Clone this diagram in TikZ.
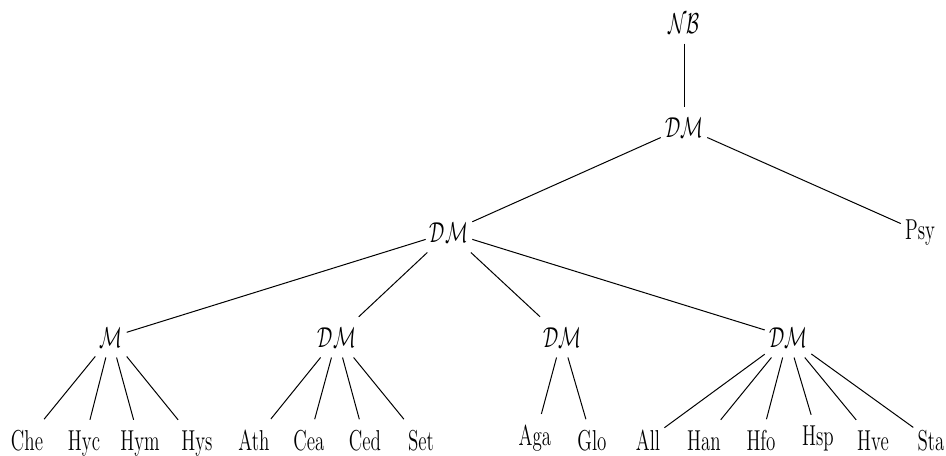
\documentclass[tikz,border=0pt]{standalone}
\begin{document}
\begin{tikzpicture}[x=0.5pt, y=-0.5pt, line width=0.5pt,
    every node/.style={font=\fontsize{14.4}{17}\selectfont, xscale=0.66,
        inner xsep=3pt, inner ysep=5pt, anchor=base}]

    \useasboundingbox (0, 0) rectangle (946, 455);

    \node (nb) at (684, 33) {$\mathcal{NB}$};
    \node (dma) at (684, 137) {$\mathcal{DM}$};
    \node (dmb) at (449, 242) {$\mathcal{DM}$};
    \node (psy) at (920, 239) {Psy};

    \node (m) at (111, 347) {$\mathcal{M}$};
    \node (dmc) at (337, 347) {$\mathcal{DM}$};
    \node (dmd) at (562, 347) {$\mathcal{DM}$};
    \node (dme) at (788, 347) {$\mathcal{DM}$};

    \node (che) at (27, 450) {Che};
    \node (hyc) at (84, 450) {Hyc};
    \node (hym) at (140, 450) {Hym};
    \node (hys) at (197, 450) {Hys};

    \node (ath) at (254, 450) {Ath};
    \node (cea) at (309, 450) {Cea};
    \node (ced) at (365, 450) {Ced};
    \node (set) at (421, 450) {Set};

    \node (aga) at (535, 445) {Aga};
    \node (glo) at (592, 450) {Glo};

    \node (all) at (648, 450) {All};
    \node (han) at (704, 450) {Han};
    \node (hfo) at (761, 450) {Hfo};
    \node (hsp) at (818, 445) {Hsp};
    \node (hve) at (873, 450) {Hve};
    \node (sta) at (931, 450) {Sta};

    \draw (nb) -- (dma);
    \draw (dma) -- (dmb);
    \draw (dma) -- (psy);

    \draw (dmb) -- (m);
    \draw (dmb) -- (dmc);
    \draw (dmb) -- (dmd);
    \draw (dmb) -- (dme);

    \draw (m) -- (che);
    \draw (m) -- (hyc);
    \draw (m) -- (hym);
    \draw (m) -- (hys);

    \draw (dmc) -- (ath);
    \draw (dmc) -- (cea);
    \draw (dmc) -- (ced);
    \draw (dmc) -- (set);

    \draw (dmd) -- (aga);
    \draw (dmd) -- (glo);

    \draw (dme) -- (all);
    \draw (dme) -- (han);
    \draw (dme) -- (hfo);
    \draw (dme) -- (hsp);
    \draw (dme) -- (hve);
    \draw (dme) -- (sta);

\end{tikzpicture}
\end{document}
